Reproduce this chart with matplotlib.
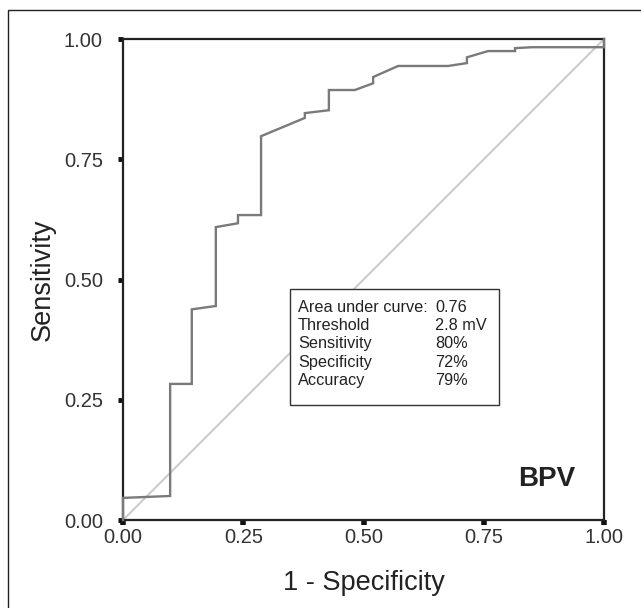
import matplotlib
matplotlib.use('Agg')
import matplotlib.pyplot as plt
from matplotlib.patches import Rectangle

plt.rcParams['font.family'] = ['Liberation Sans', 'DejaVu Sans']

# ROC curve (1 - specificity, sensitivity)
fpr = [0.0, 0.0, 0.098, 0.098, 0.143, 0.143, 0.193, 0.193, 0.239, 0.239, 0.287, 0.287,
       0.378, 0.378, 0.428, 0.428, 0.482, 0.520, 0.520, 0.572, 0.676, 0.715, 0.715,
       0.759, 0.815, 0.815, 0.850, 1.0, 1.0]
sens = [0.0, 0.046, 0.050, 0.283, 0.283, 0.438, 0.445, 0.609, 0.617, 0.634, 0.634, 0.798,
        0.836, 0.846, 0.852, 0.894, 0.894, 0.908, 0.921, 0.944, 0.944, 0.950, 0.962,
        0.975, 0.975, 0.981, 0.983, 0.983, 1.0]

tick_vals = [0.0, 0.25, 0.5, 0.75, 1.0]
tick_labels = ['0.00', '0.25', '0.50', '0.75', '1.00']

stat_names = ['Area under curve:', 'Threshold', 'Sensitivity', 'Specificity', 'Accuracy']
stat_values = ['0.76', '2.8 mV', '80%', '72%', '79%']

fig = plt.figure(figsize=(6.41, 6.08), dpi=100)
ax = fig.add_axes([0.1919, 0.1447, 0.7504, 0.7911])

# outer frame of the figure
fig.patches.append(Rectangle((8 / 641, -0.1), 1.2, 1 - 10 / 608 + 0.1,
                             transform=fig.transFigure, fill=False,
                             edgecolor='#222222', linewidth=1.0))

ax.plot([0, 1], [0, 1], color='#cccccc', linewidth=1.5, zorder=2)
ax.plot(fpr, sens, color='#7a7a7a', linewidth=1.7, zorder=3,
        solid_joinstyle='miter', clip_on=False)

ax.set_xlim(0, 1)
ax.set_ylim(0, 1)
ax.set_xticks(tick_vals)
ax.set_xticklabels(tick_labels)
ax.set_yticks(tick_vals)
ax.set_yticklabels(tick_labels)

for s in ax.spines.values():
    s.set_linewidth(1.6)
    s.set_color('#222222')

ax.tick_params(axis='x', direction='out', length=3.5, width=4.0, color='#111111',
               labelsize=14.5, labelcolor='#333333', pad=2.5)
ax.tick_params(axis='y', direction='out', length=3.5, width=3.5, color='#111111',
               labelsize=14.5, labelcolor='#333333', pad=11)

ax.set_xlabel('1 - Specificity', fontsize=19.5, color='#222222', labelpad=16)
ax.set_ylabel('Sensitivity', fontsize=19.5, color='#222222', labelpad=6)

# statistics box
box = Rectangle((0.348, 0.24), 0.433, 0.24, transform=ax.transAxes,
                facecolor='white', edgecolor='#333333', linewidth=1.0, zorder=4)
ax.add_patch(box)
for i, (name, val) in enumerate(zip(stat_names, stat_values)):
    y = 0.441 - i * 0.0375
    ax.text(0.364, y, name, transform=ax.transAxes, fontsize=11.7,
            color='#222222', va='center', ha='left', zorder=5)
    ax.text(0.649, y, val, transform=ax.transAxes, fontsize=11.7,
            color='#222222', va='center', ha='left', zorder=5)

ax.text(0.94, 0.085, 'BPV', transform=ax.transAxes, fontsize=20,
        fontweight='bold', color='#222222', ha='right', va='center')

fig.savefig('out.png', dpi=100)
